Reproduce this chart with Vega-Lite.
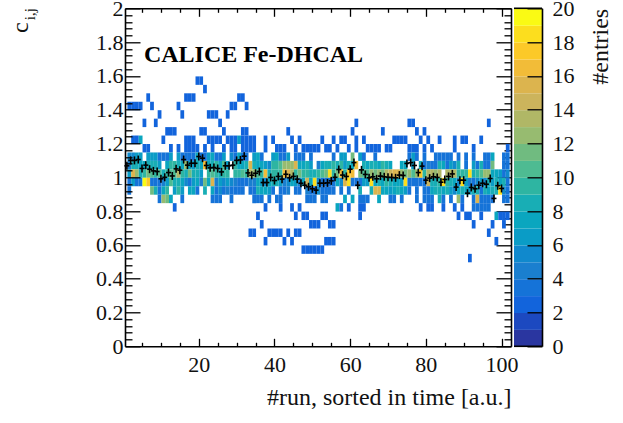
{
"$schema":"https://vega.github.io/schema/vega-lite/v6.json",
"background":"white",
"padding":{"left":8,"top":-2.7,"right":0,"bottom":0},
"bounds":"flush",
"spacing":3,
"config":{"view":{"stroke":null},"axis":{"labelFont":"Liberation Serif","titleFont":"Liberation Serif","labelFontSize":22,"titleFontSize":24,"titleFontWeight":"normal","labelColor":"#111","titleColor":"#111","grid":false,"domainColor":"black","domainWidth":1.6,"tickColor":"black","tickWidth":1.3,"labelOverlap":false,"labelFlush":false}},
"datasets":{
"cells":[
{"run":19,"c":1.575,"n":2},{"run":20,"c":1.575,"n":2},{"run":21,"c":1.525,"n":2},
{"run":6,"c":1.475,"n":2},{"run":16,"c":1.475,"n":2},{"run":17,"c":1.475,"n":2},{"run":18,"c":1.475,"n":2},{"run":30,"c":1.475,"n":2},{"run":31,"c":1.475,"n":2},
{"run":1,"c":1.425,"n":2},{"run":2,"c":1.425,"n":2},{"run":3,"c":1.425,"n":2},{"run":4,"c":1.425,"n":2},{"run":7,"c":1.425,"n":2},{"run":14,"c":1.425,"n":2},{"run":28,"c":1.425,"n":2},{"run":29,"c":1.425,"n":2},{"run":32,"c":1.425,"n":2},
{"run":9,"c":1.375,"n":2},{"run":15,"c":1.375,"n":2},{"run":22,"c":1.375,"n":2},{"run":23,"c":1.375,"n":2},{"run":24,"c":1.375,"n":2},{"run":27,"c":1.375,"n":2},
{"run":5,"c":1.325,"n":2},{"run":8,"c":1.325,"n":2},{"run":25,"c":1.325,"n":2},{"run":61,"c":1.325,"n":2},{"run":75,"c":1.325,"n":2},{"run":76,"c":1.325,"n":2},{"run":96,"c":1.325,"n":2},
{"run":11,"c":1.275,"n":2},{"run":12,"c":1.275,"n":2},{"run":13,"c":1.275,"n":2},{"run":20,"c":1.275,"n":2},{"run":21,"c":1.275,"n":2},{"run":26,"c":1.275,"n":2},{"run":31,"c":1.275,"n":2},{"run":32,"c":1.275,"n":2},{"run":43,"c":1.275,"n":2},{"run":60,"c":1.275,"n":2},{"run":68,"c":1.275,"n":2},{"run":77,"c":1.275,"n":2},{"run":79,"c":1.275,"n":2},
{"run":2,"c":1.225,"n":2},{"run":3,"c":1.225,"n":2},{"run":4,"c":1.225,"n":7},{"run":10,"c":1.225,"n":2},{"run":16,"c":1.225,"n":2},{"run":17,"c":1.225,"n":2},{"run":18,"c":1.225,"n":2},{"run":22,"c":1.225,"n":2},{"run":23,"c":1.225,"n":2},{"run":24,"c":1.225,"n":2},{"run":25,"c":1.225,"n":2},{"run":27,"c":1.225,"n":2},{"run":28,"c":1.225,"n":2},{"run":29,"c":1.225,"n":2},{"run":30,"c":1.225,"n":6},{"run":31,"c":1.225,"n":2},{"run":32,"c":1.225,"n":2},{"run":33,"c":1.225,"n":2},{"run":34,"c":1.225,"n":2},{"run":37,"c":1.225,"n":2},{"run":39,"c":1.225,"n":2},{"run":44,"c":1.225,"n":2},{"run":46,"c":1.225,"n":2},{"run":52,"c":1.225,"n":2},{"run":55,"c":1.225,"n":2},{"run":57,"c":1.225,"n":2},{"run":58,"c":1.225,"n":2},{"run":61,"c":1.225,"n":2},{"run":63,"c":1.225,"n":2},{"run":71,"c":1.225,"n":2},{"run":72,"c":1.225,"n":2},{"run":73,"c":1.225,"n":2},{"run":74,"c":1.225,"n":2},{"run":78,"c":1.225,"n":2},{"run":80,"c":1.225,"n":2},{"run":83,"c":1.225,"n":2},{"run":87,"c":1.225,"n":2},{"run":89,"c":1.225,"n":2},{"run":90,"c":1.225,"n":2},{"run":94,"c":1.225,"n":2},
{"run":5,"c":1.175,"n":2},{"run":6,"c":1.175,"n":2},{"run":12,"c":1.175,"n":2},{"run":14,"c":1.175,"n":2},{"run":16,"c":1.175,"n":2},{"run":17,"c":1.175,"n":2},{"run":18,"c":1.175,"n":2},{"run":19,"c":1.175,"n":2},{"run":21,"c":1.175,"n":2},{"run":23,"c":1.175,"n":2},{"run":26,"c":1.175,"n":2},{"run":28,"c":1.175,"n":2},{"run":29,"c":1.175,"n":2},{"run":31,"c":1.175,"n":2},{"run":32,"c":1.175,"n":2},{"run":33,"c":1.175,"n":2},{"run":34,"c":1.175,"n":2},{"run":37,"c":1.175,"n":2},{"run":40,"c":1.175,"n":2},{"run":41,"c":1.175,"n":2},{"run":42,"c":1.175,"n":2},{"run":45,"c":1.175,"n":2},{"run":47,"c":1.175,"n":2},{"run":48,"c":1.175,"n":2},{"run":49,"c":1.175,"n":2},{"run":50,"c":1.175,"n":2},{"run":51,"c":1.175,"n":2},{"run":53,"c":1.175,"n":2},{"run":54,"c":1.175,"n":2},{"run":56,"c":1.175,"n":2},{"run":59,"c":1.175,"n":2},{"run":61,"c":1.175,"n":2},{"run":64,"c":1.175,"n":2},{"run":65,"c":1.175,"n":2},{"run":66,"c":1.175,"n":2},{"run":67,"c":1.175,"n":2},{"run":69,"c":1.175,"n":2},{"run":70,"c":1.175,"n":2},{"run":75,"c":1.175,"n":2},{"run":76,"c":1.175,"n":2},{"run":77,"c":1.175,"n":2},{"run":79,"c":1.175,"n":2},{"run":81,"c":1.175,"n":2},{"run":87,"c":1.175,"n":2},{"run":92,"c":1.175,"n":2},{"run":101,"c":1.175,"n":2},
{"run":1,"c":1.125,"n":5},{"run":2,"c":1.125,"n":5},{"run":3,"c":1.125,"n":6},{"run":4,"c":1.125,"n":6},{"run":6,"c":1.125,"n":6},{"run":7,"c":1.125,"n":6},{"run":8,"c":1.125,"n":6},{"run":9,"c":1.125,"n":3},{"run":10,"c":1.125,"n":3},{"run":11,"c":1.125,"n":3},{"run":12,"c":1.125,"n":6},{"run":14,"c":1.125,"n":6},{"run":15,"c":1.125,"n":3},{"run":16,"c":1.125,"n":3},{"run":17,"c":1.125,"n":3},{"run":18,"c":1.125,"n":3},{"run":19,"c":1.125,"n":7},{"run":20,"c":1.125,"n":3},{"run":21,"c":1.125,"n":3},{"run":22,"c":1.125,"n":6},{"run":23,"c":1.125,"n":7},{"run":24,"c":1.125,"n":3},{"run":25,"c":1.125,"n":3},{"run":26,"c":1.125,"n":6},{"run":28,"c":1.125,"n":5},{"run":29,"c":1.125,"n":3},{"run":30,"c":1.125,"n":7},{"run":31,"c":1.125,"n":3},{"run":32,"c":1.125,"n":3},{"run":34,"c":1.125,"n":6},{"run":35,"c":1.125,"n":7},{"run":36,"c":1.125,"n":3},{"run":39,"c":1.125,"n":6},{"run":40,"c":1.125,"n":7},{"run":41,"c":1.125,"n":3},{"run":42,"c":1.125,"n":3},{"run":43,"c":1.125,"n":6},{"run":45,"c":1.125,"n":3},{"run":46,"c":1.125,"n":3},{"run":47,"c":1.125,"n":3},{"run":49,"c":1.125,"n":3},{"run":55,"c":1.125,"n":3},{"run":57,"c":1.125,"n":6},{"run":58,"c":1.125,"n":6},{"run":60,"c":1.125,"n":11},{"run":62,"c":1.125,"n":6},{"run":63,"c":1.125,"n":3},{"run":66,"c":1.125,"n":3},{"run":75,"c":1.125,"n":3},{"run":76,"c":1.125,"n":6},{"run":77,"c":1.125,"n":3},{"run":79,"c":1.125,"n":3},{"run":82,"c":1.125,"n":3},{"run":83,"c":1.125,"n":3},{"run":84,"c":1.125,"n":3},{"run":85,"c":1.125,"n":3},{"run":86,"c":1.125,"n":3},{"run":88,"c":1.125,"n":3},{"run":90,"c":1.125,"n":3},{"run":92,"c":1.125,"n":3},{"run":95,"c":1.125,"n":3},{"run":96,"c":1.125,"n":3},{"run":97,"c":1.125,"n":7},{"run":100,"c":1.125,"n":3},{"run":101,"c":1.125,"n":3},
{"run":1,"c":1.075,"n":4},{"run":2,"c":1.075,"n":8},{"run":3,"c":1.075,"n":8},{"run":4,"c":1.075,"n":7},{"run":5,"c":1.075,"n":7},{"run":6,"c":1.075,"n":8},{"run":7,"c":1.075,"n":8},{"run":8,"c":1.075,"n":8},{"run":9,"c":1.075,"n":6},{"run":11,"c":1.075,"n":7},{"run":12,"c":1.075,"n":9},{"run":13,"c":1.075,"n":9},{"run":14,"c":1.075,"n":8},{"run":15,"c":1.075,"n":7},{"run":16,"c":1.075,"n":12},{"run":17,"c":1.075,"n":7},{"run":18,"c":1.075,"n":6},{"run":19,"c":1.075,"n":8},{"run":20,"c":1.075,"n":7},{"run":21,"c":1.075,"n":16},{"run":22,"c":1.075,"n":7},{"run":23,"c":1.075,"n":8},{"run":24,"c":1.075,"n":9},{"run":25,"c":1.075,"n":7},{"run":26,"c":1.075,"n":10},{"run":27,"c":1.075,"n":6},{"run":29,"c":1.075,"n":9},{"run":30,"c":1.075,"n":7},{"run":31,"c":1.075,"n":7},{"run":32,"c":1.075,"n":8},{"run":33,"c":1.075,"n":15},{"run":34,"c":1.075,"n":8},{"run":35,"c":1.075,"n":7},{"run":36,"c":1.075,"n":7},{"run":37,"c":1.075,"n":6},{"run":38,"c":1.075,"n":5},{"run":39,"c":1.075,"n":9},{"run":40,"c":1.075,"n":9},{"run":41,"c":1.075,"n":10},{"run":42,"c":1.075,"n":12},{"run":43,"c":1.075,"n":12},{"run":44,"c":1.075,"n":12},{"run":45,"c":1.075,"n":15},{"run":46,"c":1.075,"n":7},{"run":47,"c":1.075,"n":7},{"run":48,"c":1.075,"n":8},{"run":49,"c":1.075,"n":6},{"run":51,"c":1.075,"n":4},{"run":52,"c":1.075,"n":7},{"run":53,"c":1.075,"n":8},{"run":54,"c":1.075,"n":8},{"run":55,"c":1.075,"n":9},{"run":56,"c":1.075,"n":8},{"run":57,"c":1.075,"n":9},{"run":58,"c":1.075,"n":6},{"run":59,"c":1.075,"n":8},{"run":60,"c":1.075,"n":7},{"run":61,"c":1.075,"n":16},{"run":63,"c":1.075,"n":8},{"run":64,"c":1.075,"n":7},{"run":65,"c":1.075,"n":8},{"run":66,"c":1.075,"n":8},{"run":67,"c":1.075,"n":7},{"run":68,"c":1.075,"n":9},{"run":69,"c":1.075,"n":8},{"run":70,"c":1.075,"n":7},{"run":73,"c":1.075,"n":7},{"run":74,"c":1.075,"n":7},{"run":76,"c":1.075,"n":6},{"run":78,"c":1.075,"n":8},{"run":79,"c":1.075,"n":3},{"run":80,"c":1.075,"n":4},{"run":81,"c":1.075,"n":3},{"run":82,"c":1.075,"n":3},{"run":83,"c":1.075,"n":8},{"run":84,"c":1.075,"n":7},{"run":85,"c":1.075,"n":3},{"run":86,"c":1.075,"n":6},{"run":87,"c":1.075,"n":5},{"run":88,"c":1.075,"n":8},{"run":90,"c":1.075,"n":3},{"run":92,"c":1.075,"n":6},{"run":93,"c":1.075,"n":3},{"run":94,"c":1.075,"n":8},{"run":95,"c":1.075,"n":3},{"run":96,"c":1.075,"n":3},{"run":97,"c":1.075,"n":11},{"run":100,"c":1.075,"n":3},{"run":101,"c":1.075,"n":3},
{"run":1,"c":1.025,"n":6},{"run":2,"c":1.025,"n":15},{"run":3,"c":1.025,"n":12},{"run":4,"c":1.025,"n":8},{"run":5,"c":1.025,"n":9},{"run":6,"c":1.025,"n":11},{"run":7,"c":1.025,"n":10},{"run":8,"c":1.025,"n":9},{"run":9,"c":1.025,"n":10},{"run":10,"c":1.025,"n":8},{"run":11,"c":1.025,"n":9},{"run":12,"c":1.025,"n":10},{"run":13,"c":1.025,"n":10},{"run":14,"c":1.025,"n":13},{"run":15,"c":1.025,"n":9},{"run":16,"c":1.025,"n":8},{"run":17,"c":1.025,"n":11},{"run":18,"c":1.025,"n":8},{"run":19,"c":1.025,"n":8},{"run":20,"c":1.025,"n":6},{"run":22,"c":1.025,"n":9},{"run":23,"c":1.025,"n":10},{"run":24,"c":1.025,"n":9},{"run":25,"c":1.025,"n":8},{"run":26,"c":1.025,"n":9},{"run":27,"c":1.025,"n":9},{"run":29,"c":1.025,"n":9},{"run":30,"c":1.025,"n":9},{"run":31,"c":1.025,"n":10},{"run":32,"c":1.025,"n":9},{"run":33,"c":1.025,"n":13},{"run":34,"c":1.025,"n":12},{"run":35,"c":1.025,"n":10},{"run":36,"c":1.025,"n":9},{"run":37,"c":1.025,"n":16},{"run":38,"c":1.025,"n":8},{"run":39,"c":1.025,"n":9},{"run":40,"c":1.025,"n":9},{"run":41,"c":1.025,"n":9},{"run":42,"c":1.025,"n":16},{"run":43,"c":1.025,"n":15},{"run":44,"c":1.025,"n":13},{"run":45,"c":1.025,"n":9},{"run":46,"c":1.025,"n":11},{"run":47,"c":1.025,"n":9},{"run":48,"c":1.025,"n":9},{"run":49,"c":1.025,"n":8},{"run":50,"c":1.025,"n":8},{"run":51,"c":1.025,"n":9},{"run":52,"c":1.025,"n":10},{"run":53,"c":1.025,"n":11},{"run":54,"c":1.025,"n":18},{"run":55,"c":1.025,"n":9},{"run":56,"c":1.025,"n":11},{"run":57,"c":1.025,"n":16},{"run":58,"c":1.025,"n":9},{"run":59,"c":1.025,"n":17},{"run":60,"c":1.025,"n":16},{"run":62,"c":1.025,"n":11},{"run":63,"c":1.025,"n":10},{"run":64,"c":1.025,"n":10},{"run":65,"c":1.025,"n":12},{"run":66,"c":1.025,"n":11},{"run":67,"c":1.025,"n":12},{"run":68,"c":1.025,"n":11},{"run":69,"c":1.025,"n":13},{"run":70,"c":1.025,"n":14},{"run":71,"c":1.025,"n":15},{"run":72,"c":1.025,"n":15},{"run":73,"c":1.025,"n":12},{"run":74,"c":1.025,"n":11},{"run":75,"c":1.025,"n":12},{"run":76,"c":1.025,"n":10},{"run":77,"c":1.025,"n":12},{"run":78,"c":1.025,"n":17},{"run":79,"c":1.025,"n":9},{"run":80,"c":1.025,"n":13},{"run":81,"c":1.025,"n":13},{"run":82,"c":1.025,"n":12},{"run":83,"c":1.025,"n":13},{"run":85,"c":1.025,"n":13},{"run":86,"c":1.025,"n":13},{"run":87,"c":1.025,"n":13},{"run":88,"c":1.025,"n":9},{"run":89,"c":1.025,"n":9},{"run":90,"c":1.025,"n":9},{"run":91,"c":1.025,"n":18},{"run":92,"c":1.025,"n":8},{"run":93,"c":1.025,"n":9},{"run":94,"c":1.025,"n":10},{"run":95,"c":1.025,"n":12},{"run":96,"c":1.025,"n":12},{"run":97,"c":1.025,"n":7},{"run":98,"c":1.025,"n":7},{"run":99,"c":1.025,"n":6},{"run":100,"c":1.025,"n":3},{"run":101,"c":1.025,"n":5},
{"run":1,"c":0.975,"n":3},{"run":2,"c":0.975,"n":6},{"run":3,"c":0.975,"n":3},{"run":4,"c":0.975,"n":3},{"run":5,"c":0.975,"n":19},{"run":6,"c":0.975,"n":17},{"run":7,"c":0.975,"n":3},{"run":8,"c":0.975,"n":3},{"run":9,"c":0.975,"n":3},{"run":10,"c":0.975,"n":4},{"run":11,"c":0.975,"n":6},{"run":12,"c":0.975,"n":10},{"run":13,"c":0.975,"n":8},{"run":14,"c":0.975,"n":8},{"run":15,"c":0.975,"n":7},{"run":16,"c":0.975,"n":5},{"run":17,"c":0.975,"n":3},{"run":18,"c":0.975,"n":6},{"run":19,"c":0.975,"n":7},{"run":20,"c":0.975,"n":4},{"run":21,"c":0.975,"n":11},{"run":22,"c":0.975,"n":7},{"run":23,"c":0.975,"n":15},{"run":24,"c":0.975,"n":4},{"run":25,"c":0.975,"n":6},{"run":26,"c":0.975,"n":5},{"run":27,"c":0.975,"n":6},{"run":28,"c":0.975,"n":5},{"run":29,"c":0.975,"n":4},{"run":30,"c":0.975,"n":3},{"run":31,"c":0.975,"n":3},{"run":32,"c":0.975,"n":3},{"run":33,"c":0.975,"n":4},{"run":34,"c":0.975,"n":4},{"run":35,"c":0.975,"n":7},{"run":36,"c":0.975,"n":6},{"run":37,"c":0.975,"n":5},{"run":38,"c":0.975,"n":7},{"run":39,"c":0.975,"n":8},{"run":40,"c":0.975,"n":8},{"run":41,"c":0.975,"n":6},{"run":42,"c":0.975,"n":4},{"run":43,"c":0.975,"n":5},{"run":44,"c":0.975,"n":7},{"run":45,"c":0.975,"n":6},{"run":46,"c":0.975,"n":4},{"run":47,"c":0.975,"n":7},{"run":48,"c":0.975,"n":14},{"run":49,"c":0.975,"n":7},{"run":50,"c":0.975,"n":18},{"run":51,"c":0.975,"n":5},{"run":52,"c":0.975,"n":3},{"run":53,"c":0.975,"n":3},{"run":54,"c":0.975,"n":3},{"run":55,"c":0.975,"n":3},{"run":56,"c":0.975,"n":7},{"run":57,"c":0.975,"n":5},{"run":58,"c":0.975,"n":15},{"run":59,"c":0.975,"n":18},{"run":60,"c":0.975,"n":3},{"run":61,"c":0.975,"n":3},{"run":62,"c":0.975,"n":3},{"run":63,"c":0.975,"n":6},{"run":64,"c":0.975,"n":6},{"run":65,"c":0.975,"n":18},{"run":66,"c":0.975,"n":7},{"run":67,"c":0.975,"n":8},{"run":68,"c":0.975,"n":7},{"run":69,"c":0.975,"n":9},{"run":70,"c":0.975,"n":8},{"run":71,"c":0.975,"n":7},{"run":72,"c":0.975,"n":7},{"run":73,"c":0.975,"n":6},{"run":74,"c":0.975,"n":18},{"run":75,"c":0.975,"n":3},{"run":76,"c":0.975,"n":3},{"run":77,"c":0.975,"n":3},{"run":78,"c":0.975,"n":3},{"run":79,"c":0.975,"n":3},{"run":80,"c":0.975,"n":14},{"run":81,"c":0.975,"n":8},{"run":82,"c":0.975,"n":8},{"run":83,"c":0.975,"n":9},{"run":84,"c":0.975,"n":18},{"run":85,"c":0.975,"n":9},{"run":86,"c":0.975,"n":8},{"run":87,"c":0.975,"n":7},{"run":88,"c":0.975,"n":5},{"run":89,"c":0.975,"n":18},{"run":90,"c":0.975,"n":6},{"run":91,"c":0.975,"n":4},{"run":92,"c":0.975,"n":3},{"run":93,"c":0.975,"n":5},{"run":94,"c":0.975,"n":6},{"run":95,"c":0.975,"n":5},{"run":96,"c":0.975,"n":8},{"run":97,"c":0.975,"n":6},{"run":98,"c":0.975,"n":8},{"run":99,"c":0.975,"n":7},{"run":100,"c":0.975,"n":8},{"run":101,"c":0.975,"n":3},
{"run":1,"c":0.925,"n":3},{"run":7,"c":0.925,"n":11},{"run":8,"c":0.925,"n":8},{"run":9,"c":0.925,"n":3},{"run":10,"c":0.925,"n":7},{"run":11,"c":0.925,"n":9},{"run":13,"c":0.925,"n":6},{"run":14,"c":0.925,"n":9},{"run":15,"c":0.925,"n":6},{"run":17,"c":0.925,"n":7},{"run":18,"c":0.925,"n":7},{"run":19,"c":0.925,"n":3},{"run":21,"c":0.925,"n":8},{"run":23,"c":0.925,"n":7},{"run":24,"c":0.925,"n":3},{"run":25,"c":0.925,"n":5},{"run":26,"c":0.925,"n":3},{"run":27,"c":0.925,"n":4},{"run":28,"c":0.925,"n":3},{"run":29,"c":0.925,"n":3},{"run":30,"c":0.925,"n":3},{"run":31,"c":0.925,"n":3},{"run":33,"c":0.925,"n":3},{"run":34,"c":0.925,"n":3},{"run":35,"c":0.925,"n":8},{"run":36,"c":0.925,"n":7},{"run":37,"c":0.925,"n":7},{"run":38,"c":0.925,"n":6},{"run":39,"c":0.925,"n":3},{"run":41,"c":0.925,"n":3},{"run":42,"c":0.925,"n":3},{"run":43,"c":0.925,"n":4},{"run":45,"c":0.925,"n":3},{"run":46,"c":0.925,"n":3},{"run":48,"c":0.925,"n":4},{"run":49,"c":0.925,"n":3},{"run":50,"c":0.925,"n":3},{"run":51,"c":0.925,"n":5},{"run":52,"c":0.925,"n":3},{"run":53,"c":0.925,"n":3},{"run":54,"c":0.925,"n":3},{"run":55,"c":0.925,"n":3},{"run":57,"c":0.925,"n":3},{"run":59,"c":0.925,"n":3},{"run":62,"c":0.925,"n":8},{"run":65,"c":0.925,"n":8},{"run":66,"c":0.925,"n":15},{"run":67,"c":0.925,"n":15},{"run":68,"c":0.925,"n":7},{"run":69,"c":0.925,"n":7},{"run":70,"c":0.925,"n":6},{"run":71,"c":0.925,"n":7},{"run":72,"c":0.925,"n":8},{"run":73,"c":0.925,"n":7},{"run":74,"c":0.925,"n":6},{"run":75,"c":0.925,"n":3},{"run":77,"c":0.925,"n":3},{"run":79,"c":0.925,"n":3},{"run":80,"c":0.925,"n":3},{"run":81,"c":0.925,"n":7},{"run":82,"c":0.925,"n":8},{"run":83,"c":0.925,"n":8},{"run":84,"c":0.925,"n":7},{"run":85,"c":0.925,"n":8},{"run":86,"c":0.925,"n":6},{"run":87,"c":0.925,"n":5},{"run":88,"c":0.925,"n":7},{"run":89,"c":0.925,"n":8},{"run":90,"c":0.925,"n":7},{"run":91,"c":0.925,"n":6},{"run":92,"c":0.925,"n":8},{"run":93,"c":0.925,"n":8},{"run":94,"c":0.925,"n":3},{"run":95,"c":0.925,"n":8},{"run":96,"c":0.925,"n":7},{"run":97,"c":0.925,"n":8},{"run":98,"c":0.925,"n":8},{"run":99,"c":0.925,"n":18},{"run":100,"c":0.925,"n":5},{"run":101,"c":0.925,"n":3},
{"run":9,"c":0.875,"n":3},{"run":10,"c":0.875,"n":12},{"run":11,"c":0.875,"n":11},{"run":12,"c":0.875,"n":7},{"run":15,"c":0.875,"n":3},{"run":23,"c":0.875,"n":3},{"run":24,"c":0.875,"n":3},{"run":25,"c":0.875,"n":3},{"run":28,"c":0.875,"n":3},{"run":34,"c":0.875,"n":3},{"run":35,"c":0.875,"n":3},{"run":36,"c":0.875,"n":3},{"run":38,"c":0.875,"n":3},{"run":40,"c":0.875,"n":3},{"run":41,"c":0.875,"n":3},{"run":48,"c":0.875,"n":3},{"run":49,"c":0.875,"n":3},{"run":50,"c":0.875,"n":3},{"run":52,"c":0.875,"n":3},{"run":53,"c":0.875,"n":3},{"run":58,"c":0.875,"n":7},{"run":60,"c":0.875,"n":7},{"run":62,"c":0.875,"n":3},{"run":63,"c":0.875,"n":3},{"run":64,"c":0.875,"n":3},{"run":67,"c":0.875,"n":7},{"run":70,"c":0.875,"n":3},{"run":71,"c":0.875,"n":3},{"run":73,"c":0.875,"n":3},{"run":77,"c":0.875,"n":3},{"run":79,"c":0.875,"n":3},{"run":80,"c":0.875,"n":3},{"run":81,"c":0.875,"n":3},{"run":83,"c":0.875,"n":8},{"run":84,"c":0.875,"n":3},{"run":86,"c":0.875,"n":3},{"run":88,"c":0.875,"n":12},{"run":89,"c":0.875,"n":3},{"run":92,"c":0.875,"n":3},{"run":93,"c":0.875,"n":15},{"run":94,"c":0.875,"n":3},{"run":95,"c":0.875,"n":3},{"run":96,"c":0.875,"n":3},{"run":97,"c":0.875,"n":3},{"run":100,"c":0.875,"n":3},{"run":101,"c":0.875,"n":3},
{"run":13,"c":0.825,"n":2},{"run":37,"c":0.825,"n":2},{"run":41,"c":0.825,"n":2},{"run":44,"c":0.825,"n":2},{"run":46,"c":0.825,"n":2},{"run":56,"c":0.825,"n":7},{"run":57,"c":0.825,"n":3},{"run":59,"c":0.825,"n":2},{"run":62,"c":0.825,"n":2},{"run":63,"c":0.825,"n":2},{"run":78,"c":0.825,"n":2},{"run":80,"c":0.825,"n":2},{"run":81,"c":0.825,"n":2},{"run":84,"c":0.825,"n":2},{"run":87,"c":0.825,"n":2},{"run":89,"c":0.825,"n":2},{"run":92,"c":0.825,"n":3},{"run":93,"c":0.825,"n":3},{"run":94,"c":0.825,"n":3},{"run":95,"c":0.825,"n":3},{"run":96,"c":0.825,"n":3},
{"run":35,"c":0.775,"n":2},{"run":45,"c":0.775,"n":2},{"run":47,"c":0.775,"n":2},{"run":48,"c":0.775,"n":2},{"run":52,"c":0.775,"n":2},{"run":53,"c":0.775,"n":2},{"run":62,"c":0.775,"n":2},{"run":88,"c":0.775,"n":2},{"run":90,"c":0.775,"n":2},{"run":91,"c":0.775,"n":2},{"run":94,"c":0.775,"n":2},{"run":98,"c":0.775,"n":7},{"run":99,"c":0.775,"n":2},{"run":100,"c":0.775,"n":2},{"run":101,"c":0.775,"n":2},
{"run":36,"c":0.725,"n":2},{"run":49,"c":0.725,"n":2},{"run":50,"c":0.725,"n":2},{"run":51,"c":0.725,"n":2},{"run":54,"c":0.725,"n":2},{"run":55,"c":0.725,"n":2},{"run":92,"c":0.725,"n":2},{"run":97,"c":0.725,"n":2},{"run":100,"c":0.725,"n":2},
{"run":33,"c":0.675,"n":2},{"run":34,"c":0.675,"n":2},{"run":38,"c":0.675,"n":2},{"run":39,"c":0.675,"n":2},{"run":40,"c":0.675,"n":2},{"run":41,"c":0.675,"n":2},{"run":43,"c":0.675,"n":2},{"run":45,"c":0.675,"n":2},{"run":46,"c":0.675,"n":2},{"run":96,"c":0.675,"n":2},
{"run":37,"c":0.625,"n":2},{"run":42,"c":0.625,"n":2},{"run":44,"c":0.625,"n":2},{"run":53,"c":0.625,"n":2},{"run":54,"c":0.625,"n":2},{"run":55,"c":0.625,"n":2},{"run":98,"c":0.625,"n":2},
{"run":47,"c":0.575,"n":2},{"run":48,"c":0.575,"n":2},{"run":49,"c":0.575,"n":2},{"run":50,"c":0.575,"n":2},{"run":51,"c":0.575,"n":2},{"run":52,"c":0.575,"n":2},
{"run":91,"c":0.525,"n":2}
],
"means":[
{"run":1,"mean":1.068},{"run":2,"mean":1.1},{"run":3,"mean":1.1},{"run":4,"mean":1.105},{"run":5,"mean":1.052},{"run":6,"mean":1.072},{"run":7,"mean":1.048},{"run":8,"mean":1.038},{"run":9,"mean":1.034},{"run":10,"mean":0.991},{"run":11,"mean":1.0},{"run":12,"mean":1.028},{"run":13,"mean":1.008},{"run":14,"mean":1.05},{"run":15,"mean":1.042},{"run":16,"mean":1.105},{"run":17,"mean":1.072},{"run":18,"mean":1.083},{"run":19,"mean":1.083},{"run":20,"mean":1.123},{"run":21,"mean":1.113},{"run":22,"mean":1.07},{"run":23,"mean":1.056},{"run":24,"mean":1.058},{"run":25,"mean":1.052},{"run":26,"mean":1.032},{"run":27,"mean":1.068},{"run":28,"mean":1.068},{"run":29,"mean":1.072},{"run":30,"mean":1.1},{"run":31,"mean":1.103},{"run":32,"mean":1.125},{"run":33,"mean":1.026},{"run":34,"mean":1.012},{"run":35,"mean":1.024},{"run":36,"mean":1.034},{"run":37,"mean":0.969},{"run":38,"mean":0.969},{"run":39,"mean":0.999},{"run":40,"mean":0.981},{"run":41,"mean":1.005},{"run":42,"mean":0.989},{"run":43,"mean":1.018},{"run":44,"mean":0.997},{"run":45,"mean":1.005},{"run":46,"mean":0.989},{"run":47,"mean":0.965},{"run":48,"mean":0.953},{"run":49,"mean":0.944},{"run":50,"mean":0.932},{"run":51,"mean":0.924},{"run":52,"mean":0.965},{"run":53,"mean":0.965},{"run":54,"mean":0.967},{"run":55,"mean":0.979},{"run":56,"mean":1.0},{"run":57,"mean":1.046},{"run":58,"mean":1.013},{"run":59,"mean":1.005},{"run":60,"mean":1.048},{"run":61,"mean":1.087},{"run":62,"mean":0.953},{"run":63,"mean":1.044},{"run":64,"mean":1.017},{"run":65,"mean":0.997},{"run":66,"mean":1.003},{"run":67,"mean":0.991},{"run":68,"mean":1.007},{"run":69,"mean":1.003},{"run":70,"mean":1.0},{"run":71,"mean":0.999},{"run":72,"mean":0.997},{"run":73,"mean":1.013},{"run":74,"mean":1.011},{"run":75,"mean":1.082},{"run":76,"mean":1.087},{"run":77,"mean":1.07},{"run":78,"mean":1.028},{"run":79,"mean":1.066},{"run":80,"mean":0.983},{"run":81,"mean":0.995},{"run":82,"mean":1.003},{"run":83,"mean":0.999},{"run":84,"mean":0.971},{"run":85,"mean":0.987},{"run":86,"mean":1.005},{"run":87,"mean":1.02},{"run":88,"mean":0.942},{"run":89,"mean":0.983},{"run":90,"mean":0.983},{"run":91,"mean":0.906},{"run":92,"mean":0.94},{"run":93,"mean":0.932},{"run":94,"mean":0.953},{"run":95,"mean":0.965},{"run":96,"mean":0.959},{"run":97,"mean":0.993},{"run":98,"mean":0.875},{"run":99,"mean":0.95},{"run":100,"mean":0.934}
],
"levels":[{"level":0},{"level":1},{"level":2},{"level":3},{"level":4},{"level":5},{"level":6},{"level":7},{"level":8},{"level":9},{"level":10},{"level":11},{"level":12},{"level":13},{"level":14},{"level":15},{"level":16},{"level":17},{"level":18},{"level":19}]
},
"hconcat":[
{"width":386,"height":338,
"resolve":{"axis":{"x":"independent","y":"independent"}},
"layer":[
{"data":{"name":"cells"},"mark":{"type":"rect","binSpacing":0},
"encoding":{
"x":{"field":"run","type":"quantitative","bin":{"step":1,"extent":[0.5,102.5]},"scale":{"domain":[0.5,102.5],"nice":false,"zero":false},
"axis":{"orient":"bottom","title":"#run, sorted in time [a.u.]","titleAnchor":"end","titlePadding":6,"labelPadding":16,"labelOverlap":false,
"values":[5,10,15,20,25,30,35,40,45,50,55,60,65,70,75,80,85,90,95,100],
"tickSize":{"condition":{"test":"datum.value%20==0","value":-8},"value":-4},
"labelExpr":"datum.value%20==0?format(datum.value,'d'):''"}},
"y":{"field":"c","type":"quantitative","bin":{"step":0.05,"extent":[0,2]},"scale":{"domain":[0,2],"nice":false,"zero":false},
"axis":{"orient":"left","title":null,"labelPadding":17,"labelOverlap":false,
"values":[0,0.04,0.08,0.12,0.16,0.2,0.24,0.28,0.32,0.36,0.4,0.44,0.48,0.52,0.56,0.6,0.64,0.68,0.72,0.76,0.8,0.84,0.88,0.92,0.96,1,1.04,1.08,1.12,1.16,1.2,1.24,1.28,1.32,1.36,1.4,1.44,1.48,1.52,1.56,1.6,1.64,1.68,1.72,1.76,1.8,1.84,1.88,1.92,1.96,2],
"tickSize":{"condition":{"test":"abs(datum.value*5-round(datum.value*5))<0.001","value":-15},"value":-7},
"labelExpr":"abs(datum.value*5-round(datum.value*5))<0.001?format(datum.value,'.1~f'):''"}},
"color":{"field":"n","type":"quantitative","legend":null,"scale":{"type":"quantize","domain":[0,20],"range":["#2a36a0","#1c49c0","#1264dc","#1573d8","#1a7fcf","#1089cd","#0a9cc6","#0aa6bf","#18aeb5","#2eb5a2","#4ebb92","#70bb80","#97bb70","#b0b766","#ccb45c","#dcb44e","#f2bc38","#fcc928","#fcde1e","#fafa14"]}}
}},
{"data":{"name":"means"},"mark":{"type":"tick","orient":"vertical","color":"black","size":8,"thickness":1.6,"opacity":1},
"encoding":{"x":{"field":"run","type":"quantitative","axis":{"orient":"top","title":null,"labels":false,"values":[5,10,15,20,25,30,35,40,45,50,55,60,65,70,75,80,85,90,95,100],"tickSize":{"condition":{"test":"datum.value%20==0","value":-8},"value":-4}}},
"y":{"field":"mean","type":"quantitative","axis":{"orient":"right","title":null,"labels":false,"values":[0,0.04,0.08,0.12,0.16,0.2,0.24,0.28,0.32,0.36,0.4,0.44,0.48,0.52,0.56,0.6,0.64,0.68,0.72,0.76,0.8,0.84,0.88,0.92,0.96,1,1.04,1.08,1.12,1.16,1.2,1.24,1.28,1.32,1.36,1.4,1.44,1.48,1.52,1.56,1.6,1.64,1.68,1.72,1.76,1.8,1.84,1.88,1.92,1.96,2],"tickSize":{"condition":{"test":"abs(datum.value*5-round(datum.value*5))<0.001","value":-15},"value":-7}}}}},
{"data":{"name":"means"},"mark":{"type":"tick","orient":"horizontal","color":"black","size":5,"thickness":1.6,"opacity":1},
"encoding":{"x":{"field":"run","type":"quantitative","axis":null},"y":{"field":"mean","type":"quantitative","axis":null}}},
{"data":{"values":[{"label":"CALICE Fe-DHCAL","run":5.5,"c":1.724}]},"mark":{"type":"text","font":"Liberation Serif","fontSize":24,"fontWeight":"bold","align":"left","baseline":"middle","color":"black"},
"encoding":{"x":{"field":"run","type":"quantitative","axis":null},"y":{"field":"c","type":"quantitative","axis":null},"text":{"field":"label"}}},
{"data":{"values":[{"label":"c","run":-27,"c":1.885}]},"mark":{"type":"text","font":"Liberation Serif","fontSize":24,"angle":270,"align":"center","baseline":"middle","color":"#111","clip":false},
"encoding":{"x":{"field":"run","type":"quantitative","axis":null},"y":{"field":"c","type":"quantitative","axis":null},"text":{"field":"label"}}},
{"data":{"values":[{"label":"i,j","run":-24.5,"c":1.965}]},"mark":{"type":"text","font":"Liberation Serif","fontSize":15,"angle":270,"align":"center","baseline":"middle","color":"#111","clip":false},
"encoding":{"x":{"field":"run","type":"quantitative","axis":null},"y":{"field":"c","type":"quantitative","axis":null},"text":{"field":"label"}}}
]},
{"width":28,"height":338,
"layer":[
{"data":{"name":"levels"},"mark":{"type":"rect","binSpacing":0},
"encoding":{
"y":{"field":"level","type":"quantitative","bin":{"step":1,"extent":[0,20]},"scale":{"domain":[0,20],"nice":false,"zero":false},
"axis":{"orient":"right","title":"#entries","titleAngle":270,"titleAnchor":"end","titlePadding":39,"titleFontSize":24,"labelPadding":25,"labelOverlap":false,"tickSize":-15,"values":[0,2,4,6,8,10,12,14,16,18,20],"format":"d"}},
"color":{"field":"level","type":"quantitative","legend":null,"scale":{"type":"quantize","domain":[0,20],"range":["#2a36a0","#1c49c0","#1264dc","#1573d8","#1a7fcf","#1089cd","#0a9cc6","#0aa6bf","#18aeb5","#2eb5a2","#4ebb92","#70bb80","#97bb70","#b0b766","#ccb45c","#dcb44e","#f2bc38","#fcc928","#fcde1e","#fafa14"]}}
}},
{"data":{"values":[{"edge":0},{"edge":20}]},"mark":{"type":"rule","color":"black","strokeWidth":1.6},
"encoding":{"y":{"field":"edge","type":"quantitative"}}}
]}
],
"resolve":{"scale":{"color":"shared"}}
}
